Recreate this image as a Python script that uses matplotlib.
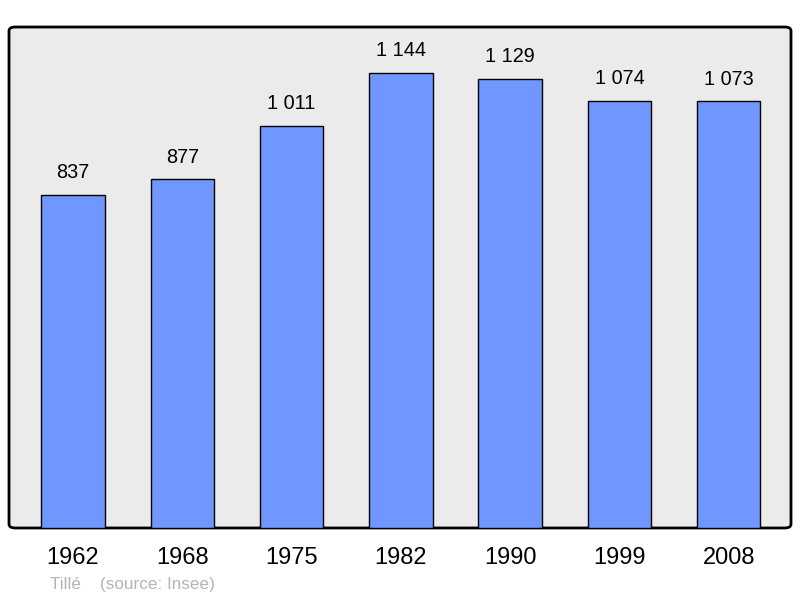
import matplotlib.pyplot as plt
from matplotlib.patches import FancyBboxPatch

plt.rcParams['font.family'] = ['Liberation Sans', 'DejaVu Sans']

# Données : population de Tillé
years = ['1962', '1968', '1975', '1982', '1990', '1999', '2008']
population = [837, 877, 1011, 1144, 1129, 1074, 1073]
labels = ['837', '877', '1 011', '1 144', '1 129', '1 074', '1 073']

fig = plt.figure(figsize=(8, 5.98), dpi=100)
ax = fig.add_axes([9 / 800, 1 - 528 / 598, 782 / 800, 501 / 598])
ax.set_facecolor('none')

# cadre arrondi gris
frame = FancyBboxPatch((0, 0), 1, 1,
                       boxstyle='round,pad=0,rounding_size=0.008',
                       transform=ax.transAxes, facecolor='#ebebeb',
                       edgecolor='black', linewidth=2, zorder=0, clip_on=False)
ax.add_patch(frame)

x = list(range(len(years)))
bars = ax.bar(x, population, width=0.58, color='#7096ff',
              edgecolor='black', linewidth=1, zorder=2)

for xi, v, lab in zip(x, population, labels):
    ax.annotate(lab, (xi, v), xytext=(0, 9), textcoords='offset points',
                ha='center', va='bottom', fontsize=14.3)

ax.set_xlim(-0.585, 6.57)
ax.set_ylim(0, 1259)
for s in ax.spines.values():
    s.set_visible(False)
ax.set_yticks([])
ax.set_xticks(x)
ax.set_xticklabels(years, fontsize=17)
ax.tick_params(axis='x', length=0, pad=13.5)

fig.text(50 / 800, 1 - 584 / 598, 'Tillé    (source: Insee)', color='#b4b4b4',
         fontsize=12.3, va='center', ha='left')

fig.savefig('out.png', dpi=100)
